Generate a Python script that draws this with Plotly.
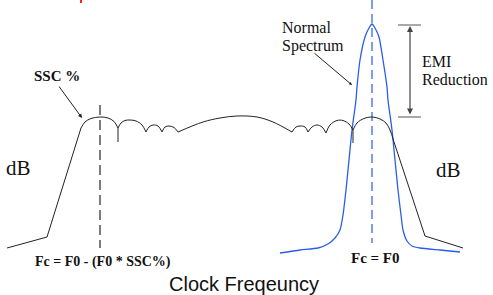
import plotly.graph_objects as go

# ---- data (frequency position, level position; level axis drawn top-down) ----
# straight parts of the spread-spectrum (SSC) envelope
ssc_lin_f = [7, 47, 81, None, 394, 425, 463, None, 118, 118, None, 353, 353]
ssc_lin_l = [248, 237, 128, None, 142, 236, 248, None, 128, 142, None, 130, 143]

# rounded lobes of the SSC envelope (segments separated by None)
ssc_arc_f = [81, 85, 91, 100, 108, 114, 118, None,
             118, 121, 125, 130, 136, 142, 146, None,
             146, 149, 153, 158, 162, None,
             162, 165, 169, 174, 178, None,
             178, 203, 220, 237, 257, 273, 292, None,
             292, 296, 300, 305, 308, None,
             308, 312, 317, 322, 326, None,
             326, 330, 337, 343, 349, 353, None,
             353, 357, 364, 372, 380, 386, 390, 394]
ssc_arc_l = [128, 122, 118.5, 117, 118, 121.5, 128, None,
             128, 123, 120.5, 120, 121, 125, 132, None,
             132, 127, 125, 126, 132, None,
             132, 127, 126, 127.5, 132, None,
             132, 122, 118, 116, 117, 122, 132, None,
             132, 127, 126, 127, 132, None,
             132, 127, 125, 127, 133, None,
             133, 125, 120.5, 120.5, 124, 130, None,
             130, 123, 118.5, 117, 119, 123, 130, 142]

# normal (non-spread) spectrum
normal_f = [280, 300, 318, 328, 335, 340, 343, 346, 349, 352, 356, 357, 360, 365, 369, 372,
            375, 379, 383, 387, 388, 392, 395, 398, 401, 403, 407, 412, 420, 440, 460]
normal_l = [253, 250, 248, 244, 238, 230, 215, 190, 160, 130, 100, 87, 60, 37, 28, 24,
            28, 37, 60, 87, 100, 130, 160, 190, 215, 230, 241, 246, 248, 250, 252]

f0 = 372          # centre frequency
fc_ssc = 100      # down-spread centre frequency
f0_line_l = [0, 243]
fc_line_l = [105, 248]

emi_f = [398, 421]
emi_arrow_f = 410

serif = "Liberation Serif, Times New Roman, serif"
sans = "Liberation Sans, Arial, sans-serif"

fig = go.Figure()

fig.add_trace(go.Scatter(x=[f0, f0], y=f0_line_l, mode="lines",
                         line=dict(color="#2a5ee8", width=1.2, dash="9px,5px"),
                         hoverinfo="skip"))
fig.add_trace(go.Scatter(x=[fc_ssc, fc_ssc], y=fc_line_l, mode="lines",
                         line=dict(color="#111111", width=1.1, dash="10px,5px"),
                         hoverinfo="skip"))
fig.add_trace(go.Scatter(x=normal_f, y=normal_l, mode="lines",
                         line=dict(color="#2a5ee8", width=1.3, shape="spline", smoothing=0.6),
                         hoverinfo="skip"))
fig.add_trace(go.Scatter(x=ssc_lin_f, y=ssc_lin_l, mode="lines",
                         line=dict(color="#222222", width=1),
                         hoverinfo="skip"))
fig.add_trace(go.Scatter(x=ssc_arc_f, y=ssc_arc_l, mode="lines",
                         line=dict(color="#222222", width=1, shape="spline", smoothing=1),
                         hoverinfo="skip"))

top = min(normal_l)
bottom = min(v for v in ssc_arc_l if v is not None)
fig.add_trace(go.Scatter(x=emi_f + [None] + emi_f, y=[top + 1, top + 1, None, bottom + 1, bottom + 1],
                         mode="lines", line=dict(color="#555555", width=1), hoverinfo="skip"))

anns = []
# EMI reduction double arrow
anns.append(dict(x=emi_arrow_f, y=top + 2, ax=emi_arrow_f, ay=bottom, xref="x", yref="y",
                 axref="x", ayref="y", text="", showarrow=True, arrowhead=2, startarrowhead=2,
                 arrowside="end+start", arrowsize=1, startarrowsize=1, arrowwidth=1.2,
                 arrowcolor="#444444"))
# pointer arrows
anns.append(dict(x=82, y=118, ax=58, ay=85, xref="x", yref="y", axref="x", ayref="y",
                 text="", showarrow=True, arrowhead=2, arrowsize=0.8, arrowwidth=1,
                 arrowcolor="#222222"))
anns.append(dict(x=352, y=85, ax=313, ay=52, xref="x", yref="y", axref="x", ayref="y",
                 text="", showarrow=True, arrowhead=2, arrowsize=0.6, arrowwidth=1,
                 arrowcolor="#222222"))

def txt(x, y, s, size, family=serif, anchor="left", vanchor="middle", color="#111111"):
    anns.append(dict(x=x, y=y, xref="x", yref="y", text=s, showarrow=False,
                     xanchor=anchor, yanchor=vanchor, borderpad=0,
                     font=dict(family=family, size=size, color=color)))

txt(33, 76, "<b>SSC %</b>", 15)
txt(281, 37, "Normal", 16, vanchor="bottom")
txt(281, 36, "Spectrum", 16, vanchor="top")
txt(421, 71, "EMI", 16, vanchor="bottom")
txt(421, 70, "Reduction", 16, vanchor="top")
txt(5, 168, "dB", 21)
txt(435, 170, "dB", 21)
txt(34, 262, "<b>Fc = F0 - (F0 * SSC%)</b>", 14)
txt(350, 258, "<b>Fc = F0</b>", 15)
txt(243.5, 283.5, "Clock Freqeuncy", 20, family=sans, anchor="center")

fig.update_layout(
    annotations=anns,
    width=493, height=295,
    margin=dict(l=0, r=0, t=0, b=0),
    paper_bgcolor="white", plot_bgcolor="white",
    showlegend=False,
    xaxis=dict(range=[0, 493], visible=False, fixedrange=True),
    yaxis=dict(range=[295, 0], visible=False, fixedrange=True),
    shapes=[dict(type="line", xref="x", yref="y", x0=81, x1=81, y0=0, y1=3,
                 line=dict(color="#ff2020", width=2))],
)

fig.write_html("out.html", config={"displayModeBar": False},
               post_script="document.body.style.margin='0';document.body.style.overflow='hidden';")
